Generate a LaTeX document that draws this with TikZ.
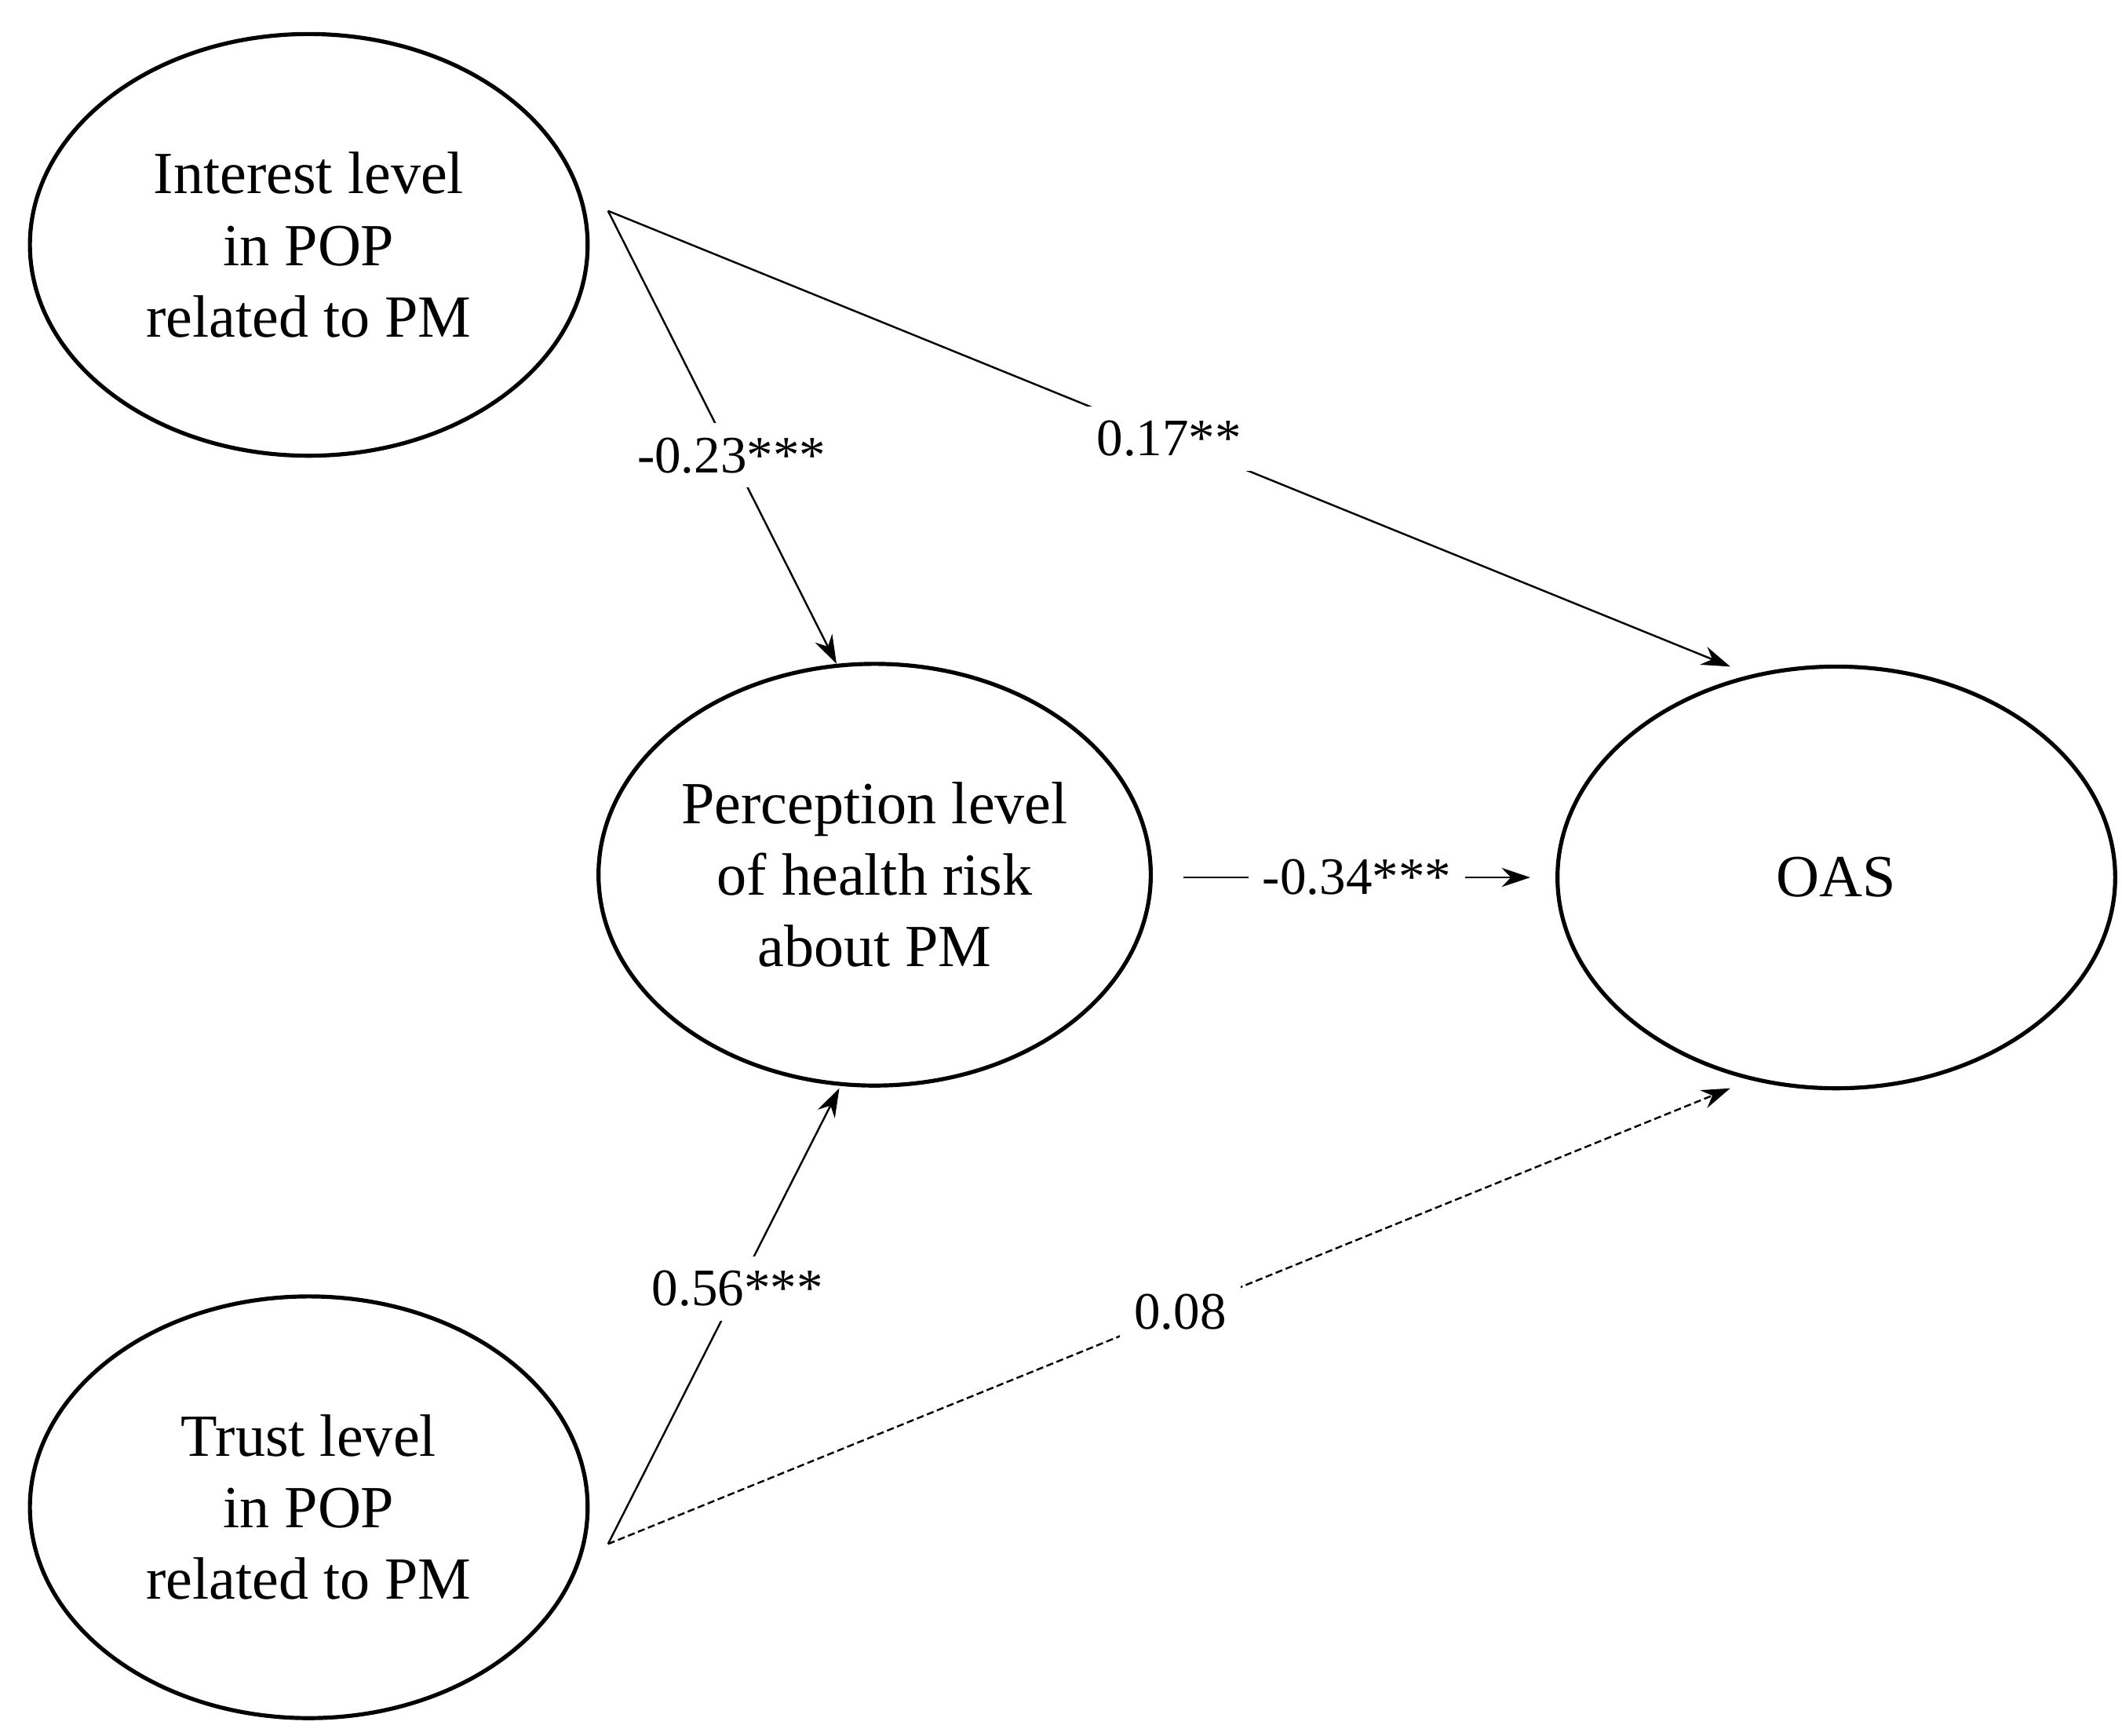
\documentclass[tikz,border=0pt]{standalone}
\usepackage{fontspec}
\setmainfont{Liberation Serif}
\usetikzlibrary{arrows.meta,shapes.geometric}
\begin{document}
\begin{tikzpicture}[x=0.02cm,y=-0.02cm,
  lat/.style={ellipse,draw,line width=1.7pt,minimum width=410*0.02cm,minimum height=310*0.02cm,align=center,font=\fontsize{25}{30}\selectfont,inner sep=0pt},
  con/.style={line width=0.8pt,-{Stealth[length=12pt,width=8pt]}},
  lab/.style={fill=white,font=\fontsize{22}{24}\selectfont,inner sep=6pt}]
\useasboundingbox (0,0) rectangle (1560,1276);
\node[lat] (int) at (227,180) {Interest level\\in POP\\related to PM};
\node[lat,minimum width=406*0.02cm] (per) at (643,643) {Perception level\\of health risk\\about PM};
\node[lat] (oas) at (1350,645) {OAS};
\node[lat] (tru) at (227,1108) {Trust level\\in POP\\related to PM};
\coordinate (a) at (447,155);
\coordinate (b) at (447,1135);
\coordinate (pe) at (870,645);
\coordinate (oe) at (1125,645);
\coordinate (pt) at (615,488);
\coordinate (pb) at (617,800);
\coordinate (ot) at (1272,490);
\coordinate (ob) at (1272,800);
\draw[con] (a) -- node[lab,pos=0.5] {0.17**} (ot);
\draw[con] (a) -- node[lab,pos=0.54] {-0.23***} (pt);
\draw[con] (pe) -- node[lab] {-0.34***} (oe);
\draw[con] (b) -- node[lab,pos=0.56] {0.56***} (pb);
\draw[con,dashed,dash pattern=on 3pt off 1.5pt] (b) -- node[lab,pos=0.51] {0.08} (ob);
\end{tikzpicture}
\end{document}
